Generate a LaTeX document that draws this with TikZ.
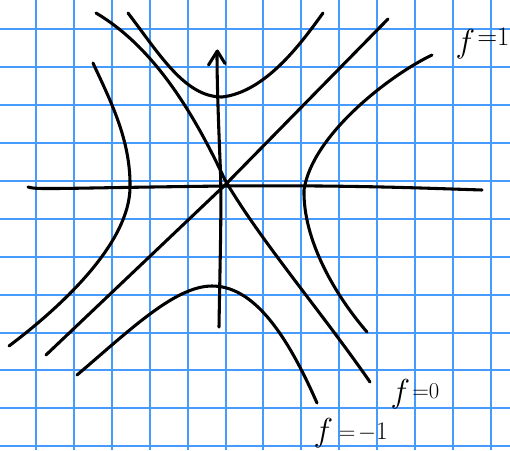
\documentclass[tikz,border=0pt]{standalone}
\usepackage{tikz}

\tikzset{every picture/.style={line width=0.75pt}}
\tikzset{gridline/.style={color={rgb, 255:red, 70; green, 155; blue, 255 }, line width=1.5pt},
         pen/.style={line width=2.3pt, line cap=round, line join=round}}

\begin{document}
\begin{tikzpicture}[x=0.75pt,y=0.75pt,yscale=-1,xscale=1]
%set diagram left start at 0, and has height of 450
\useasboundingbox (0,0) rectangle (510,450);
\fill[white] (0,0) rectangle (510,450);

%Shape: Grid
\begin{scope}
\clip (0,0) rectangle (510,450);
\foreach \k in {-1,...,12} {\draw [gridline] ({36+37.9*\k},0) -- ({36+37.9*\k},450);}
\foreach \k in {0,...,11} {\draw [gridline] (0,{29.3+37.9*\k}) -- (510,{29.3+37.9*\k});}
\end{scope}

%Shape: Axis 2D horizontal
\draw [pen]  (28,187) .. controls (36,190) and (60,188) .. (225,186) .. controls (350,185) and (420,188) .. (482,190) ;
%Shape: Axis 2D vertical
\draw [pen]  (219,327) .. controls (220,260) and (222,200) .. (220,160) .. controls (218,110) and (217,80) .. (217,52) ;
\draw [pen]  (208.5,65) -- (217.3,51) -- (225,63.5) ;

%Straight Lines asymptote up
\draw [pen]  (46,355) -- (225,185) -- (388,19) ;
%Curve Lines asymptote down
\draw [pen]  (96,13) .. controls (150,45) and (190,105) .. (225,180) .. controls (260,240) and (320,310) .. (370,382) ;

%Curve Lines upper branch
\draw [pen]  (128,13) .. controls (160,55) and (185,97) .. (222,97) .. controls (265,92) and (300,45) .. (323,13) ;
%Curve Lines lower branch
\draw [pen]  (77,375) .. controls (130,330) and (175,286) .. (212,286) .. controls (252,286) and (285,330) .. (317,403) ;
%Curve Lines right branch
\draw [pen]  (432,55) .. controls (390,75) and (312,135) .. (304,190) .. controls (303,240) and (335,295) .. (367,332) ;
%Curve Lines left branch
\draw [pen]  (93,63) .. controls (110,100) and (131,140) .. (130,188) .. controls (129,240) and (70,300) .. (9,346) ;

% Text Node
\node (fone) at (454,52) [anchor=base west, inner sep=0.75pt] {{\fontsize{29}{29}\selectfont$f$}\,\raisebox{5pt}{\fontsize{20}{20}\selectfont$=$1}};
% Text Node
\node (fzero) at (389,402) [anchor=base west, inner sep=0.75pt] {{\fontsize{25}{25}\selectfont$f$}\,\raisebox{3pt}{\fontsize{17}{17}\selectfont$=$0}};
% Text Node
\node (fmone) at (312,441) [anchor=base west, inner sep=0.75pt] {{\fontsize{25}{25}\selectfont$f$}\;\,\raisebox{1pt}{\fontsize{19}{19}\selectfont$=\!-$1}};

\end{tikzpicture}
\end{document}
